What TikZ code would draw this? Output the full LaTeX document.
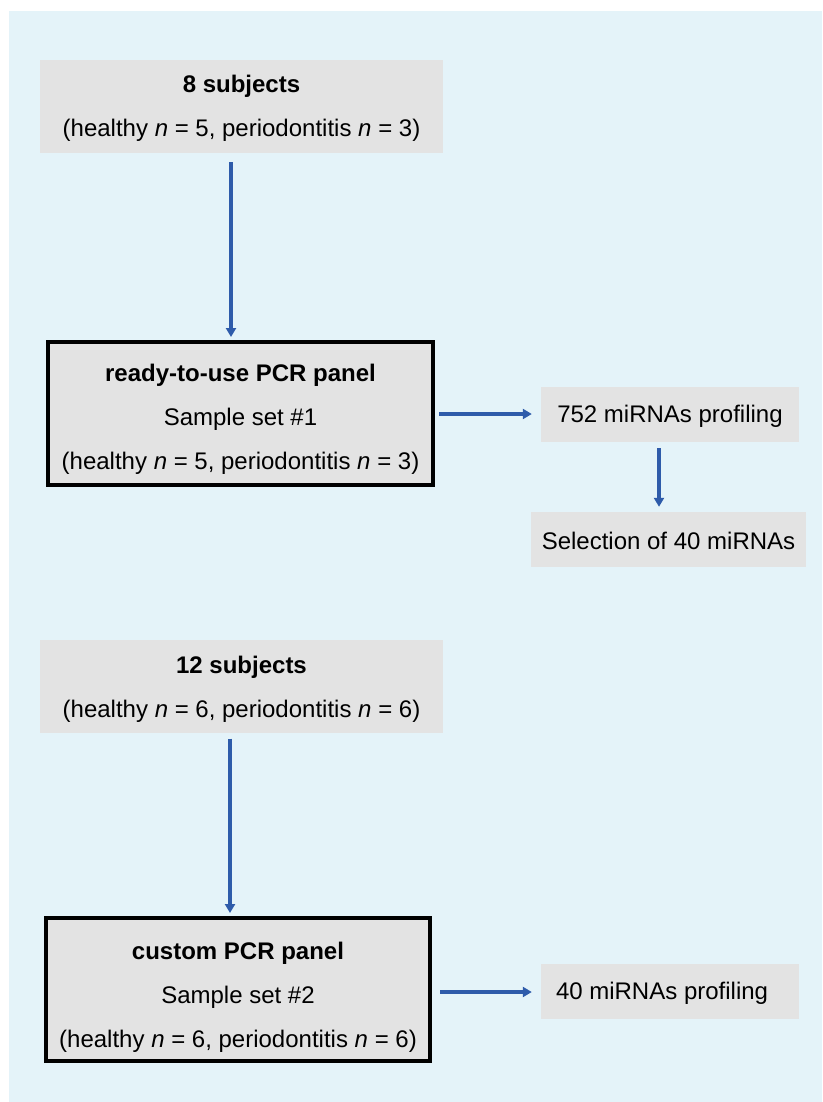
\documentclass[tikz,border=0pt]{standalone}
\usepackage{fontspec}
\setmainfont{Liberation Sans}
\usetikzlibrary{arrows.meta}
\definecolor{bgblue}{HTML}{E4F3F9}
\definecolor{boxgray}{HTML}{E3E3E3}
\definecolor{arrblue}{HTML}{2E5BAA}
\tikzset{
  txt/.style={font=\fontsize{24}{44}\selectfont, align=center, inner sep=0pt},
  graybox/.style={fill=boxgray, draw=none, inner sep=0pt},
  panelbox/.style={graybox, draw=black, line width=4pt},
  arr/.style={draw=arrblue, line width=3.5pt, -{Triangle[length=9pt,width=10pt]}},
}
\begin{document}
\begin{tikzpicture}[x=1pt,y=-1pt]
\useasboundingbox (0,0) rectangle (822,1102);
\fill[bgblue] (9,11) rectangle (822,1102);

% boxes
\node[graybox, minimum width=403pt, minimum height=93pt] (s1) at (241.5,106.5) {};
\node[panelbox, minimum width=385pt, minimum height=143pt] (p1) at (240.5,413.5) {};
\node[graybox, minimum width=258pt, minimum height=55pt] (m1) at (670,414) {};
\node[graybox, minimum width=275pt, minimum height=55pt] (sel) at (668.5,539.5) {};
\node[graybox, minimum width=403pt, minimum height=93pt] (s2) at (241.5,686) {};
\node[panelbox, minimum width=384pt, minimum height=143pt] (p2) at (238,989.5) {};
\node[graybox, minimum width=258pt, minimum height=55pt] (m2) at (670,991.5) {};

% texts
\node[txt, yshift=-2pt] (s1t) at (s1.center)
  {\textbf{8 subjects}\\(healthy \textit{n} = 5, periodontitis \textit{n} = 3)};
\node[txt, yshift=-6pt] (p1t) at (p1.center)
  {\textbf{ready-to-use PCR panel}\\Sample set \#1\\(healthy \textit{n} = 5, periodontitis \textit{n} = 3)};
\node[txt, yshift=-2pt] (m1t) at (m1.center) {752 miRNAs profiling};
\node[txt, yshift=-1pt] (selt) at (sel.center) {Selection of 40 miRNAs};
\node[txt, yshift=-3pt] (s2t) at (s2.center)
  {\textbf{12 subjects}\\(healthy \textit{n} = 6, periodontitis \textit{n} = 6)};
\node[txt, yshift=-8pt] (p2t) at (p2.center)
  {\textbf{custom PCR panel}\\Sample set \#2\\(healthy \textit{n} = 6, periodontitis \textit{n} = 6)};
\node[txt, anchor=west, yshift=-2pt] (m2t) at ([xshift=15pt]m2.west) {40 miRNAs profiling};

% connectors
\draw[arr] ([xshift=-10.5pt,yshift=-9pt]s1.south) -- ([xshift=-9.5pt,yshift=3pt]p1.north);
\draw[arr] ([xshift=4pt,yshift=-0.5pt]p1.east) -- ([xshift=-9pt]m1.west);
\draw[arr] ([xshift=-11pt,yshift=-6.5pt]m1.south) -- ([xshift=-9.5pt,yshift=5pt]sel.north);
\draw[arr] ([xshift=-11.5pt,yshift=-6pt]s2.south) -- ([xshift=-8pt,yshift=3pt]p2.north);
\draw[arr] ([xshift=8pt,yshift=-2.5pt]p2.east) -- ([xshift=-9pt,yshift=-0.5pt]m2.west);
\end{tikzpicture}
\end{document}
